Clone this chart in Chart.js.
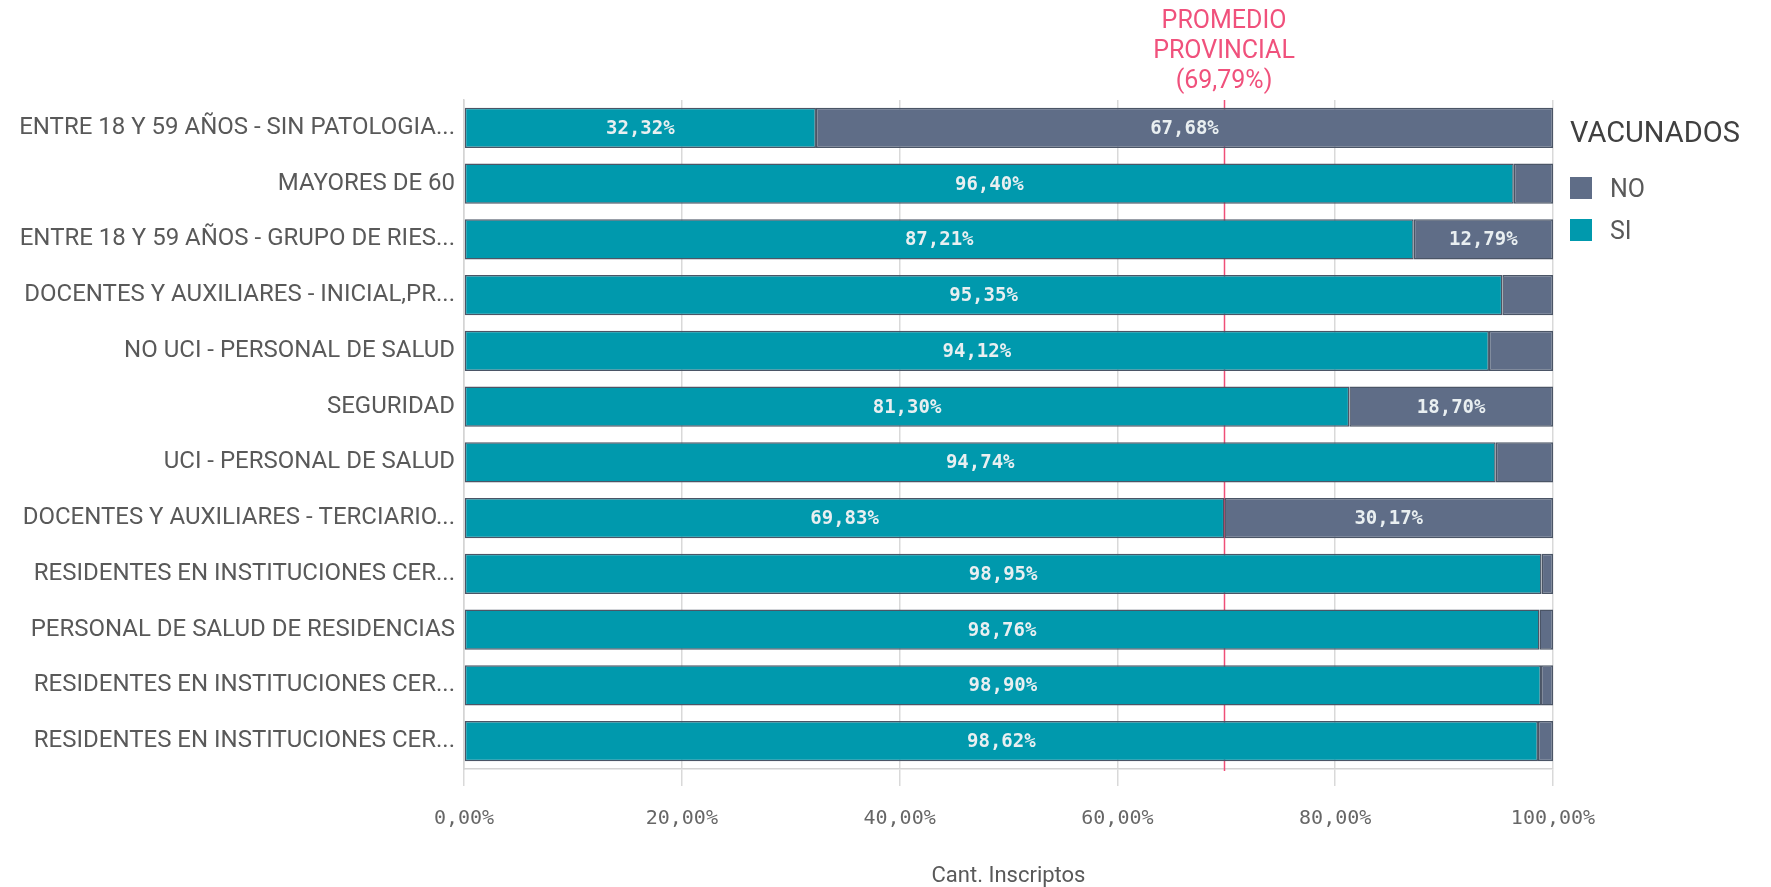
<!DOCTYPE html>
<html>
<head>
<meta charset="utf-8">
<script src="https://cdn.jsdelivr.net/npm/chart.js@4.4.1/dist/chart.umd.min.js"></script>
<style>
  html, body { margin: 0; padding: 0; background: #fff; }
  #wrap { width: 1771px; height: 887px; }
</style>
</head>
<body>
<div id="wrap"><canvas id="vacunadosChart" width="1771" height="887"></canvas></div>
<script>
// Categorias (ordenadas como en el grafico original)
var categories = [
    'ENTRE 18 Y 59 AÑOS - SIN PATOLOGIA...',
    'MAYORES DE 60',
    'ENTRE 18 Y 59 AÑOS - GRUPO DE RIES...',
    'DOCENTES Y AUXILIARES - INICIAL,PR...',
    'NO UCI - PERSONAL DE SALUD',
    'SEGURIDAD',
    'UCI - PERSONAL DE SALUD',
    'DOCENTES Y AUXILIARES - TERCIARIO...',
    'RESIDENTES EN INSTITUCIONES CER...',
    'PERSONAL DE SALUD DE RESIDENCIAS',
    'RESIDENTES EN INSTITUCIONES CER...',
    'RESIDENTES EN INSTITUCIONES CER...'
];

var siValues = [32.32, 96.40, 87.21, 95.35, 94.12, 81.30, 94.74, 69.83, 98.95, 98.76, 98.90, 98.62];
var noValues = [67.68, 3.60, 12.79, 4.65, 5.88, 18.70, 5.26, 30.17, 1.05, 1.24, 1.10, 1.38];

var seriesNames = ['SI', 'NO'];
var seriesColors = ['#0099ad', '#5f6d87'];

var xTicks = [0, 20, 40, 60, 80, 100];
var xTickLabels = ['0,00%', '20,00%', '40,00%', '60,00%', '80,00%', '100,00%'];

var promedio = 69.79;
var promedioLabel = ['PROMEDIO', 'PROVINCIAL', '(69,79%)'];
var legendTitle = 'VACUNADOS';
var axisTitle = 'Cant. Inscriptos';

var SANS = 'Roboto, "Liberation Sans", sans-serif';
var MONO = '"DejaVu Sans Mono", monospace';

function fmtPct(v) {
    return v.toFixed(2).replace('.', ',') + '%';
}

// Linea y texto del promedio provincial
var promedioPlugin = {
    id: 'promedio',
    beforeDatasetsDraw: function(chart) {
        var ctx = chart.ctx;
        var area = chart.chartArea;
        var x = Math.round(chart.scales.x.getPixelForValue(promedio)) + 0.5;
        ctx.save();
        ctx.strokeStyle = '#ef4f78';
        ctx.lineWidth = 1.5;
        ctx.beginPath();
        ctx.moveTo(x, area.top);
        ctx.lineTo(x, area.bottom + 2);
        ctx.stroke();
        ctx.restore();
    },
    afterDraw: function(chart) {
        var ctx = chart.ctx;
        var x = chart.scales.x.getPixelForValue(promedio);
        ctx.save();
        ctx.fillStyle = '#f0517c';
        ctx.font = '25px ' + SANS;
        ctx.textAlign = 'center';
        ctx.textBaseline = 'middle';
        promedioLabel.forEach(function(line, i) {
            ctx.fillText(line, x, 22 + i * 30);
        });
        ctx.restore();
    }
};

// Etiquetas de valor dentro de cada segmento
var barLabelsPlugin = {
    id: 'barLabels',
    afterDatasetsDraw: function(chart) {
        var ctx = chart.ctx;
        ctx.save();
        ctx.font = 'bold 19px ' + MONO;
        ctx.fillStyle = '#e9eff1';
        ctx.textAlign = 'center';
        ctx.textBaseline = 'middle';
        chart.data.datasets.forEach(function(ds, di) {
            chart.getDatasetMeta(di).data.forEach(function(bar, i) {
                var text = fmtPct(ds.data[i]);
                var w = Math.abs(bar.x - bar.base);
                if (ctx.measureText(text).width + 20 < w) {
                    ctx.fillText(text, (bar.x + bar.base) / 2, bar.y + 1);
                }
            });
        });
        ctx.restore();
    }
};

// Leyenda a la derecha (NO arriba, SI abajo)
var sideLegendPlugin = {
    id: 'sideLegend',
    afterDraw: function(chart) {
        var ctx = chart.ctx;
        var left = chart.chartArea.right + 17;
        ctx.save();
        ctx.textBaseline = 'middle';
        ctx.textAlign = 'left';
        ctx.fillStyle = '#404040';
        ctx.font = '29px ' + SANS;
        ctx.fillText(legendTitle, left, 135);
        var items = chart.data.datasets.slice().reverse();
        items.forEach(function(ds, i) {
            var cy = 188 + i * 42;
            ctx.fillStyle = ds.backgroundColor;
            ctx.fillRect(left, cy - 11, 22, 22);
            ctx.fillStyle = '#595959';
            ctx.font = '25px ' + SANS;
            ctx.fillText(ds.label, left + 40, cy + 3);
        });
        ctx.restore();
    }
};

var ctx = document.getElementById('vacunadosChart').getContext('2d');

new Chart(ctx, {
    type: 'bar',
    data: {
        labels: categories,
        datasets: [{
            label: seriesNames[0],
            data: siValues,
            backgroundColor: seriesColors[0],
            borderColor: '#4b5566',
            borderWidth: 1.5,
            borderSkipped: false
        }, {
            label: seriesNames[1],
            data: noValues,
            backgroundColor: seriesColors[1],
            borderColor: '#4b5566',
            borderWidth: 1.5,
            borderSkipped: false
        }]
    },
    options: {
        indexAxis: 'y',
        responsive: false,
        animation: false,
        devicePixelRatio: 1,
        categoryPercentage: 0.8,
        barPercentage: 0.9,
        layout: {
            padding: { top: 100, right: 218, left: 0, bottom: 0 }
        },
        scales: {
            x: {
                stacked: true,
                min: 0,
                max: 100,
                afterBuildTicks: function(scale) {
                    scale.ticks = xTicks.map(function(v) { return { value: v }; });
                },
                afterFit: function(scale) {
                    scale.height = 118;
                },
                grid: {
                    color: '#d9d9d9',
                    lineWidth: 1.5,
                    tickLength: 17
                },
                border: {
                    color: '#d4d4d4',
                    width: 1.5
                },
                ticks: {
                    font: { family: MONO, size: 20 },
                    color: '#666666',
                    padding: 21,
                    maxRotation: 0,
                    callback: function(value, index) {
                        return xTickLabels[index];
                    }
                },
                title: {
                    display: true,
                    text: axisTitle,
                    font: { family: SANS, size: 22, lineHeight: 1 },
                    color: '#595959',
                    padding: { top: 0, bottom: 0 }
                }
            },
            y: {
                stacked: true,
                afterFit: function(scale) {
                    scale.width = 464;
                },
                grid: {
                    display: false,
                    drawTicks: false
                },
                border: {
                    display: true,
                    color: '#d4d4d4',
                    width: 1.5
                },
                ticks: {
                    autoSkip: false,
                    font: { family: SANS, size: 24 },
                    color: '#595959',
                    padding: 9
                }
            }
        },
        plugins: {
            legend: { display: false },
            tooltip: { enabled: false }
        }
    },
    plugins: [promedioPlugin, barLabelsPlugin, sideLegendPlugin]
});
</script>
</body>
</html>
